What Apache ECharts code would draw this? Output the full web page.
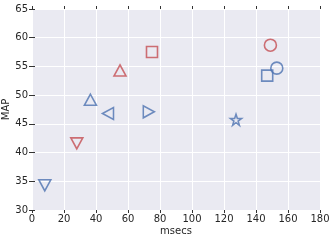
<!DOCTYPE html>
<html><head><meta charset="utf-8">
<script src="https://cdn.jsdelivr.net/npm/echarts@6/dist/echarts.min.js"></script>
<style>html,body{margin:0;padding:0;background:#fff}#c{width:333px;height:240px}</style>
</head><body><div id="c"></div>
<script>
const msecs   = [8,    28,   36.5, 47.5, 55,   75,   73,   149,  147,  153,  127.5];
const mapVals = [34.3, 41.6, 49.2, 46.8, 54.3, 57.5, 47.1, 58.7, 53.4, 54.7, 45.7];
const shapes  = ['down','down','up','left','up','square','right','circle','square','circle','star'];
const groups  = ['blue','red','blue','blue','red','red','blue','red','blue','blue','blue'];
const xTicks = [0,20,40,60,80,100,120,140,160,180];
const yTicks = [30,35,40,45,50,55,60,65];

const colorMap = {red:'#C44E52', blue:'#4C72B0'};
const star = 'path://M50,0 L61.8,34.5 L97.6,34.5 L68.5,55.9 L79.4,90.5 L50,69.1 L20.6,90.5 L31.5,55.9 L2.4,34.5 L38.2,34.5 Z';
function sym(s){
  switch(s){
    case 'up': return {symbol:'triangle', symbolSize:[12,11], symbolRotate:0};
    case 'down': return {symbol:'triangle', symbolSize:[12,11], symbolRotate:180};
    case 'left': return {symbol:'triangle', symbolSize:[12,11], symbolRotate:90};
    case 'right': return {symbol:'triangle', symbolSize:[12,11], symbolRotate:-90};
    case 'square': return {symbol:'rect', symbolSize:11};
    case 'circle': return {symbol:'circle', symbolSize:12};
    case 'star': return {symbol:star, symbolSize:11};
  }
}
const series = msecs.map((x,i)=>Object.assign({
  type:'scatter', xAxisIndex:0, yAxisIndex:0,
  data:[[x,mapVals[i]]],
  itemStyle:{color:'rgba(0,0,0,0)', borderColor:colorMap[groups[i]], borderWidth:1.6},
  emphasis:{disabled:true}, z:2+i
}, sym(shapes[i])));

const font = 'DejaVu Sans';
const tickStyle = {show:true, inside:false, length:3, lineStyle:{color:'#333', width:1}};
const chart = echarts.init(document.getElementById('c'), null, {renderer:'canvas'});
chart.setOption({
  animation:false,
  grid:{left:32, top:9, width:288, height:201, backgroundColor:'#EAEAF2', show:true, borderWidth:0,
        containLabel:false, outerBoundsMode:'none'},
  xAxis:[
    {type:'value', min:0, max:180, interval:20, position:'bottom',
     name:'msecs', nameLocation:'middle', nameGap:16, nameMoveOverlap:false,
     nameTextStyle:{fontFamily:font, fontSize:10, color:'#262626'},
     axisLine:{show:false}, axisTick:tickStyle,
     axisLabel:{fontFamily:font, fontSize:10, color:'#262626', margin:4,
       formatter:v=>xTicks.includes(v)?String(v):''},
     splitLine:{show:true, lineStyle:{color:'#fff', width:1}}},
    {type:'value', min:0, max:180, interval:20, position:'top',
     axisLine:{show:false}, axisTick:tickStyle, axisLabel:{show:false}, splitLine:{show:false}}
  ],
  yAxis:[
    {type:'value', min:30, max:65, interval:5, position:'left',
     name:'MAP', nameLocation:'middle', nameGap:21, nameRotate:90, nameMoveOverlap:false,
     nameTextStyle:{fontFamily:font, fontSize:10, color:'#262626'},
     axisLine:{show:false}, axisTick:tickStyle,
     axisLabel:{fontFamily:font, fontSize:10, color:'#262626', margin:4,
       formatter:v=>yTicks.includes(v)?String(v):''},
     splitLine:{show:true, lineStyle:{color:'#fff', width:1}}},
    {type:'value', min:30, max:65, interval:5, position:'right',
     axisLine:{show:false}, axisTick:tickStyle, axisLabel:{show:false}, splitLine:{show:false}}
  ],
  series: series
});
</script></body></html>
